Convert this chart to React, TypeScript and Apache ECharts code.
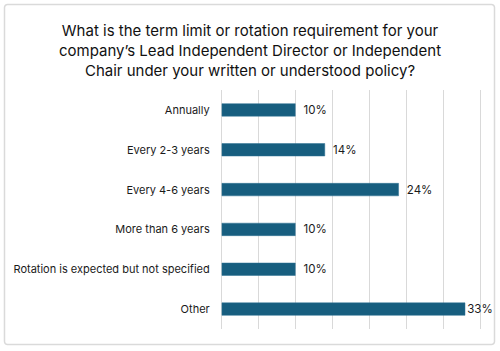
import React, { useEffect, useRef } from "react";
import * as echarts from "echarts";

const categories = [
  "Annually",
  "Every 2-3 years",
  "Every 4-6 years",
  "More than 6 years",
  "Rotation is expected but not specified",
  "Other",
];
const values = [10, 14, 24, 10, 10, 33];
const titleText =
  "What is the term limit or rotation requirement for your\ncompany\u2019s Lead Independent Director or Independent\nChair under your written or understood policy?";

export default function App() {
  const ref = useRef<HTMLDivElement>(null);
  useEffect(() => {
    if (!ref.current) return;
    const chart = echarts.init(ref.current, null, { renderer: "svg" });
    const font = "Inter, 'Noto Sans', sans-serif";
    chart.setOption({
      animation: false,
      backgroundColor: "#ffffff",
      graphic: [
        {
          type: "rect",
          shape: { x: 4.5, y: 4.5, width: 490, height: 340, r: 3 },
          style: { fill: "none", stroke: "#dadada", lineWidth: 1.5 },
          silent: true,
        },
      ],
      title: {
        text: titleText,
        left: "center",
        top: 15,
        textStyle: {
          fontFamily: font,
          fontSize: 15,
          fontWeight: "normal",
          color: "#111111",
          lineHeight: 20,
        },
      },
      grid: { left: 221.7, right: 20, top: 90, bottom: 22, containLabel: false },
      xAxis: {
        type: "value",
        min: 0,
        max: 35,
        interval: 5,
        axisLabel: { show: false },
        axisLine: { show: false },
        axisTick: { show: false },
        splitLine: { show: true, lineStyle: { color: "#d9d9d9", width: 1 } },
      },
      yAxis: {
        type: "category",
        data: categories,
        inverse: true,
        axisLine: { show: false },
        axisTick: { show: false },
        axisLabel: {
          fontFamily: font,
          fontSize: 11,
          color: "#1a1a1a",
          margin: 12,
        },
      },
      series: [
        {
          type: "bar",
          barWidth: 13,
          data: values.map((v, i) => ({
            value: v,
            label: { distance: i === values.length - 1 ? 2 : 8 },
          })),
          itemStyle: { color: "#175e7f", borderColor: "#2f7294", borderWidth: 0.5 },
          label: {
            show: true,
            position: "right",
            formatter: "{c}%",
            fontFamily: font,
            fontSize: 11.5,
            color: "#1a1a1a",
          },
        },
      ],
    });
    return () => chart.dispose();
  }, []);
  return (
    <div
      ref={ref}
      style={{ position: "fixed", left: 0, top: 0, width: 500, height: 351 }}
    />
  );
}
